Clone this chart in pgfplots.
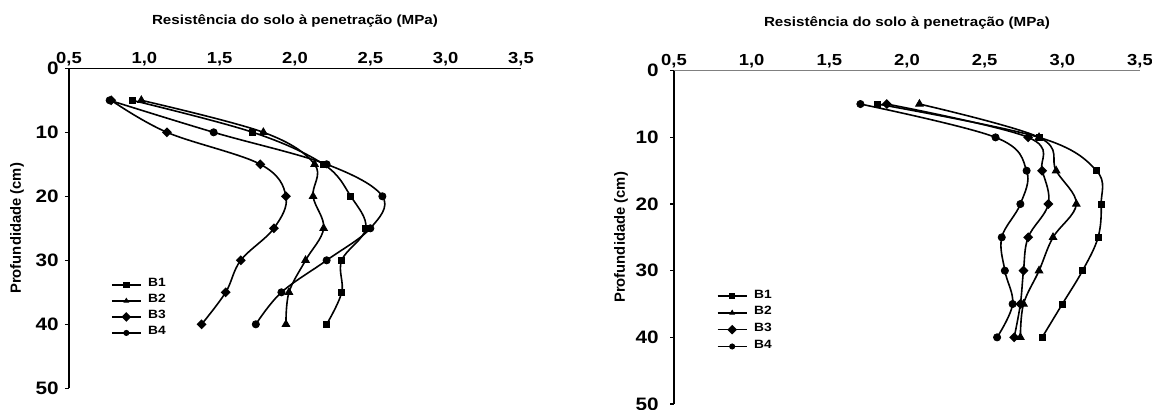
\documentclass[border=0pt]{standalone}
\usepackage{fontspec}
\setmainfont{Liberation Sans}
\newfontfamily\widesf{Liberation Sans}[FakeStretch=1.15]
\usepackage{pgfplots}
\pgfplotsset{compat=1.18}

\pgfplotsset{
  panel/.style={
    scale only axis, clip=false,
    axis x line=top, axis y line=left,
    axis line style={-, line width=0.7pt},
    y dir=reverse,
    xmin=0.5, xmax=3.5, ymin=0, ymax=50,
    xtick={0.5,1,1.5,2,2.5,3,3.5},
    xticklabels={{0,5},{1,0},{1,5},{2,0},{2,5},{3,0},{3,5}},
    ytick={0,10,20,30,40,50},
    /pgf/number format/assume math mode=true,
    tick align=outside, major tick length=2pt,
    xtick style={draw=none},
    ytick style={line width=0.6pt, black},
    xticklabel style={font=\widesf\bfseries\fontsize{8}{9}\selectfont, inner sep=0pt,
      anchor=base, yshift=0.5pt},
    yticklabel style={font=\widesf\bfseries\fontsize{9}{10}\selectfont, inner sep=0pt},
    title={Resistência do solo à penetração (MPa)},
    title style={font=\widesf\bfseries\fontsize{6.6}{8}\selectfont, inner sep=0pt,
      at={([yshift=16pt]axis description cs:0.5,1)}, anchor=base},
    ylabel={Profundidade (cm)},
    ylabel style={font=\bfseries\fontsize{7.4}{8.5}\selectfont, inner sep=0pt, anchor=center},
    legend style={draw=none, fill=none, inner sep=0pt, outer sep=0pt,
      font=\widesf\bfseries\fontsize{6}{7}\selectfont,
      /tikz/column sep=3.3pt, /tikz/row sep=0pt,
      nodes={inner sep=0pt, text height=5pt, text depth=3pt}},
    legend cell align=left,
    legend image code/.code={\draw[mark repeat=2, mark phase=2, ##1, mark size=1.3pt]
      plot coordinates {(0pt,0pt) (7.25pt,0pt) (14.5pt,0pt)};},
  },
  base/.style={black, line width=0.8pt, smooth, tension=0.6,
    mark options={fill=black, draw=black, line width=0.4pt}},
  s1/.style={base, mark=square*, mark size=1.5pt},
  s2/.style={base, mark=triangle*, mark size=2.2pt},
  s3/.style={base, mark=square*, mark size=1.35pt, mark options={rotate=45}},
  s4/.style={base, mark=*, mark size=1.8pt},
}

\begin{document}
\begin{tikzpicture}
\useasboundingbox (0pt,0pt) rectangle (576pt,204.5pt);

% left panel
\begin{axis}[panel, at={(34.5pt,170.35pt)}, anchor=north west,
  width=226pt, height=160pt,
  yticklabel style={anchor=east, xshift=-3pt},
  ylabel style={at={([xshift=-26pt]axis description cs:0,0.5)}},
  legend style={at={(axis description cs:0.093,0.348)}, anchor=north west}]
\addplot[s1] coordinates {(0.92,5) (1.72,10) (2.19,15) (2.37,20) (2.47,25) (2.31,30) (2.31,35) (2.21,40)};
\addplot[s2] coordinates {(0.98,5) (1.79,10) (2.13,15) (2.12,20) (2.19,25) (2.07,30) (1.96,35) (1.94,40)};
\addplot[s3] coordinates {(0.78,5) (1.15,10) (1.77,15) (1.94,20) (1.86,25) (1.64,30) (1.54,35) (1.38,40)};
\addplot[s4] coordinates {(0.77,5) (1.46,10) (2.21,15) (2.58,20) (2.50,25) (2.21,30) (1.91,35) (1.74,40)};
\legend{B1,B2,B3,B4}
\end{axis}

% right panel
\begin{axis}[panel, at={(337pt,169.15pt)}, anchor=north west,
  width=233pt, height=166.65pt,
  x axis line style={draw=gray},
  yticklabel style={anchor=east, xshift=-5.5pt},
  ylabel style={at={([xshift=-26.5pt]axis description cs:0,0.5)}},
  legend style={at={(axis description cs:0.092,0.349)}, anchor=north west,
    nodes={text height=5.2pt, text depth=3.2pt}}]
\addplot[s1] coordinates {(1.81,5) (2.85,10) (3.22,15) (3.25,20) (3.23,25) (3.13,30) (3.00,35) (2.87,40)};
\addplot[s2] coordinates {(2.08,5) (2.85,10) (2.96,15) (3.09,20) (2.94,25) (2.85,30) (2.75,35) (2.73,40)};
\addplot[s3] coordinates {(1.87,5) (2.78,10) (2.87,15) (2.91,20) (2.78,25) (2.75,30) (2.73,35) (2.69,40)};
\addplot[s4] coordinates {(1.70,5) (2.57,10) (2.77,15) (2.73,20) (2.61,25) (2.63,30) (2.68,35) (2.58,40)};
\legend{B1,B2,B3,B4}
\end{axis}
\end{tikzpicture}
\end{document}
